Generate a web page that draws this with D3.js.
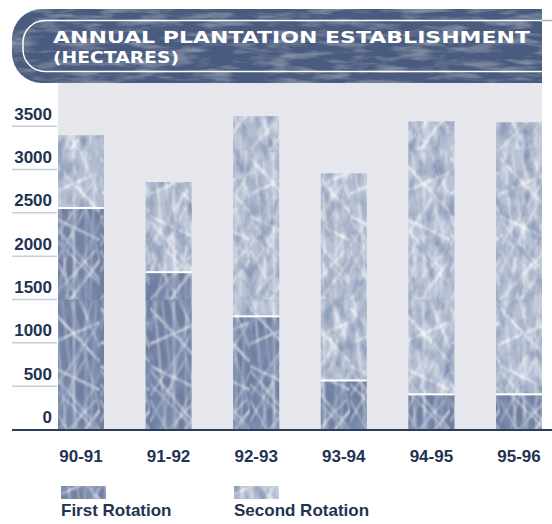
<!DOCTYPE html>
<html>
<head>
<meta charset="utf-8">
<script src="https://cdn.jsdelivr.net/npm/d3@7/dist/d3.min.js"></script>
<style>
  html, body { margin: 0; padding: 0; background: #ffffff; }
  svg { display: block; }
</style>
</head>
<body>
<svg id="chart" width="552" height="524"></svg>
<script>
// Annual plantation establishment, hectares per planting season
const categories = ["90-91", "91-92", "92-93", "93-94", "94-95", "95-96"];
const firstRotation = [2550, 1810, 1300, 560, 400, 400];
const secondRotation = [840, 1040, 2310, 2390, 3150, 3140];
const yTicks = [0, 500, 1000, 1500, 2000, 2500, 3000, 3500];
const seriesNames = ["First Rotation", "Second Rotation"];

// Streaks drawn into the frosted fill texture (tile coordinates)
const streaks = [
  [0, 8, 50, 62], [12, 0, 30, 150], [50, 22, 0, 96], [24, 0, 24, 150],
  [0, 84, 50, 134], [42, 0, 6, 150], [0, 44, 50, 22], [14, 150, 50, 72],
  [0, 122, 36, 58], [30, 0, 50, 48], [0, 150, 46, 100], [8, 0, 0, 30],
  [50, 110, 20, 150], [36, 150, 36, 0], [0, 100, 28, 150], [50, 130, 0, 70],
  [4, 0, 18, 150], [46, 0, 40, 150], [0, 66, 50, 90], [20, 0, 50, 110]
];

const svg = d3.select("#chart");
const defs = svg.append("defs");

const text = "#1f3352";
const fontStack = "'Liberation Sans', Arial, Helvetica, sans-serif";

// ---- textures ----
const soft = defs.append("filter").attr("id", "soft");
soft.append("feGaussianBlur").attr("stdDeviation", 0.8);

function makeTexture(id, base, streakColor, streakOpacity) {
  const p = defs.append("pattern").attr("id", id)
    .attr("patternUnits", "userSpaceOnUse")
    .attr("width", 50).attr("height", 150);
  p.append("rect").attr("width", 50).attr("height", 150).attr("fill", base);
  p.append("g").attr("filter", "url(#soft)")
    .selectAll("line").data(streaks).join("line")
    .attr("x1", d => d[0]).attr("y1", d => d[1])
    .attr("x2", d => d[2]).attr("y2", d => d[3])
    .attr("stroke", streakColor)
    .attr("stroke-width", (d, i) => (i % 3 === 0 ? 2.2 : 1.3))
    .attr("stroke-opacity", (d, i) => streakOpacity * (i % 2 ? 0.7 : 1));
}
makeTexture("tex-first", "#6f7e9f", "#eef2f8", 0.85);
makeTexture("tex-second", "#b9c2d4", "#ffffff", 0.8);

// dark blotches laid over the textured bars
const mottle = defs.append("filter").attr("id", "mottle")
  .attr("x", 0).attr("y", 0).attr("width", 1).attr("height", 1);
mottle.append("feTurbulence").attr("type", "fractalNoise")
  .attr("baseFrequency", "0.09 0.05").attr("numOctaves", 3).attr("seed", 7)
  .attr("result", "n");
mottle.append("feColorMatrix").attr("in", "n").attr("type", "matrix")
  .attr("values", "0 0 0 0 0.22  0 0 0 0 0.29  0 0 0 0 0.45  1.9 0 0 0 -0.70")
  .attr("result", "c");
mottle.append("feComposite").attr("in", "c").attr("in2", "SourceAlpha").attr("operator", "in")
  .attr("result", "m");
mottle.append("feMerge").call(m => {
  m.append("feMergeNode").attr("in", "SourceGraphic");
  m.append("feMergeNode").attr("in", "m");
});

const bannerTex = defs.append("filter").attr("id", "bannerTex")
  .attr("x", 0).attr("y", 0).attr("width", 1).attr("height", 1);
bannerTex.append("feTurbulence").attr("type", "fractalNoise")
  .attr("baseFrequency", "0.03 0.15").attr("numOctaves", 3).attr("seed", 3)
  .attr("result", "n");
bannerTex.append("feColorMatrix").attr("in", "n").attr("type", "matrix")
  .attr("values", "0 0 0 0 0.60  0 0 0 0 0.66  0 0 0 0 0.78  0.8 0 0 0 -0.36")
  .attr("result", "c");
bannerTex.append("feComposite").attr("in", "c").attr("in2", "SourceAlpha").attr("operator", "in")
  .attr("result", "m");
bannerTex.append("feMerge").call(m => {
  m.append("feMergeNode").attr("in", "SourceGraphic");
  m.append("feMergeNode").attr("in", "m");
});

// ---- header banner ----
svg.append("path")
  .attr("d", "M542,9 H42 A30,30 0 0 0 12,39 V53 A30,30 0 0 0 42,83 H542 Z")
  .attr("fill", "#485b7f")
  .attr("filter", "url(#bannerTex)");
svg.append("path")
  .attr("d", "M542,20.5 H45 A22,22 0 0 0 23,42.5 V49.5 A22,22 0 0 0 45,71.5 H542")
  .attr("fill", "none").attr("stroke", "#ffffff").attr("stroke-width", 1.5);
svg.append("line")
  .attr("x1", 542).attr("x2", 552).attr("y1", 20.5).attr("y2", 20.5)
  .attr("stroke", "#a9b2c4").attr("stroke-width", 1.5);

svg.append("text")
  .attr("x", 53).attr("y", 43)
  .attr("textLength", 477).attr("lengthAdjust", "spacingAndGlyphs")
  .attr("font-family", "'DejaVu Sans', sans-serif").attr("font-weight", "bold")
  .attr("font-size", 15).attr("fill", "#ffffff")
  .text("ANNUAL PLANTATION ESTABLISHMENT");
svg.append("text")
  .attr("x", 53).attr("y", 63)
  .attr("textLength", 126).attr("lengthAdjust", "spacingAndGlyphs")
  .attr("font-family", "'DejaVu Sans', sans-serif").attr("font-weight", "bold")
  .attr("font-size", 15).attr("fill", "#ffffff")
  .text("(HECTARES)");

// ---- plot ----
const x = d3.scaleBand().domain(categories).range([58, 542])
  .paddingInner(0.475).paddingOuter(0).align(0);
const y = d3.scaleLinear().domain([0, 3500]).range([429, 125.7]);

svg.append("rect")
  .attr("x", 58).attr("y", 83).attr("width", 484).attr("height", 346)
  .attr("fill", "#e6e7ed");

// tick rules and labels on the left
const ticks = svg.append("g");
ticks.selectAll("line").data(yTicks.filter(v => v > 0)).join("line")
  .attr("x1", 12).attr("x2", 57)
  .attr("y1", d => y(d) + 0.5).attr("y2", d => y(d) + 0.5)
  .attr("stroke", "#c8cdda").attr("stroke-width", 1.5);
ticks.selectAll("text").data(yTicks).join("text")
  .attr("x", 52).attr("y", d => y(d) - 6)
  .attr("text-anchor", "end")
  .attr("font-family", fontStack).attr("font-weight", "bold")
  .attr("font-size", 17).attr("fill", text)
  .text(d => d);

// stacked bars
const rows = categories.map((c, i) => ({ cat: c, first: firstRotation[i], second: secondRotation[i] }));
const stack = d3.stack().keys(["first", "second"])(rows);
const fills = ["url(#tex-first)", "url(#tex-second)"];

const bars = svg.append("g").attr("filter", "url(#mottle)");
bars.selectAll("g").data(stack).join("g")
  .attr("fill", (d, i) => fills[i])
  .selectAll("rect").data(d => d).join("rect")
  .attr("x", d => x(d.data.cat))
  .attr("y", d => y(d[1]))
  .attr("width", x.bandwidth())
  .attr("height", d => y(d[0]) - y(d[1]));

// white divider where second rotation starts
svg.append("g").selectAll("rect").data(rows).join("rect")
  .attr("x", d => x(d.cat))
  .attr("y", d => y(d.first) - 1)
  .attr("width", x.bandwidth())
  .attr("height", 2)
  .attr("fill", "#ffffff");

// baseline
svg.append("line")
  .attr("x1", 12).attr("x2", 552).attr("y1", 430).attr("y2", 430)
  .attr("stroke", "#2b3d5b").attr("stroke-width", 2);

// category labels
svg.append("g").selectAll("text").data(categories).join("text")
  .attr("x", d => x(d) + x.bandwidth() / 2)
  .attr("y", 462)
  .attr("text-anchor", "middle")
  .attr("font-family", fontStack).attr("font-weight", "bold")
  .attr("font-size", 17).attr("fill", text)
  .text(d => d);

// legend
const legendX = [61, 234];
const legend = svg.append("g").selectAll("g").data(seriesNames).join("g")
  .attr("transform", (d, i) => `translate(${legendX[i]},0)`);
legend.append("rect")
  .attr("x", 0).attr("y", 486).attr("width", 45).attr("height", 13)
  .attr("fill", (d, i) => fills[i])
  .attr("filter", "url(#mottle)");
legend.append("text")
  .attr("x", 0).attr("y", 516)
  .attr("font-family", fontStack).attr("font-weight", "bold")
  .attr("font-size", 17).attr("fill", text)
  .text(d => d);
</script>
</body>
</html>
